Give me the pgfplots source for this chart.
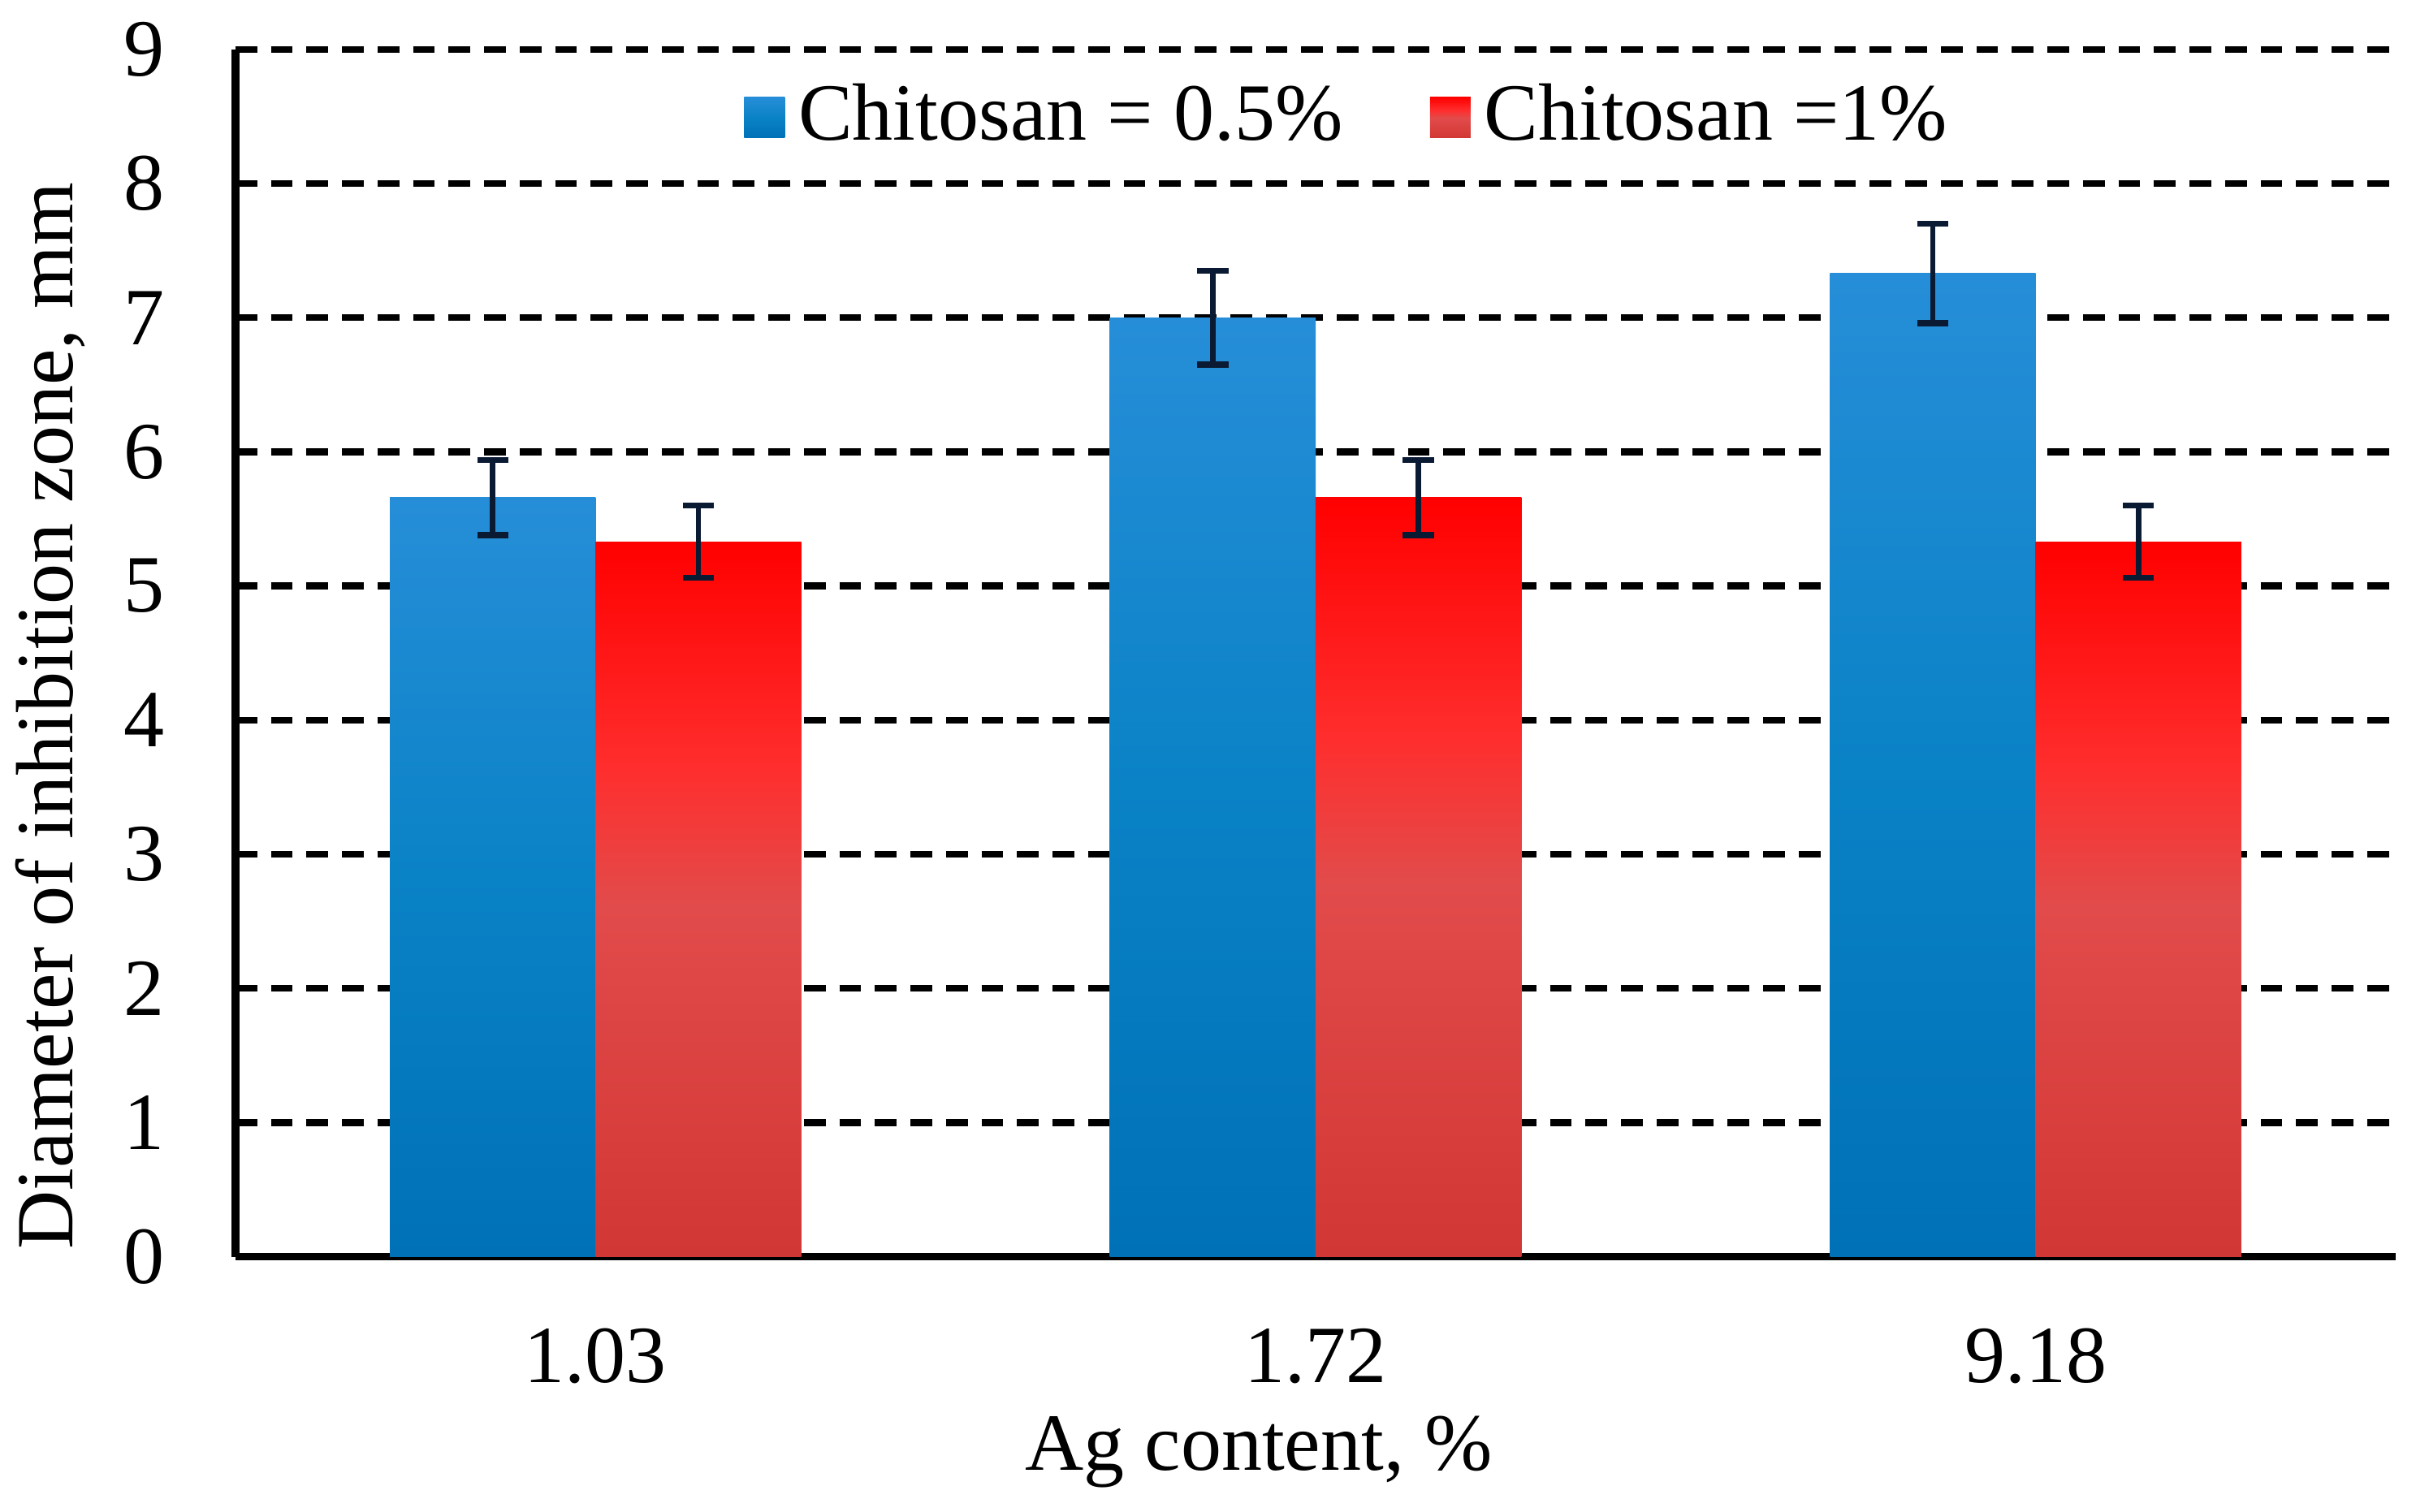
\documentclass[12pt,border=0pt]{standalone}
\usepackage{fontspec}
\setmainfont{Liberation Serif}
\usepackage{pgfplots}
\usepackage{pgfplotstable}
\pgfplotsset{compat=1.18}

\definecolor{errc}{HTML}{0B1A33}
\definecolor{bb0}{HTML}{0071B7}
\definecolor{bb5}{HTML}{0A82C6}
\definecolor{bb10}{HTML}{268ED8}
\definecolor{rb0}{HTML}{D13734}
\definecolor{rb49}{HTML}{E24B4B}
\definecolor{rb68}{HTML}{FF2E2E}
\definecolor{rb10}{HTML}{FF0000}

\pgfdeclareverticalshading{bluebar}{100bp}{color(0bp)=(bb0); color(25bp)=(bb0); color(50bp)=(bb5); color(75bp)=(bb10); color(100bp)=(bb10)}
\pgfdeclareverticalshading{redbar}{100bp}{color(0bp)=(rb0); color(25bp)=(rb0); color(49.5bp)=(rb49); color(59bp)=(rb68); color(75bp)=(rb10); color(100bp)=(rb10)}

\pgfplotstableread{
x y err
0 5.66 0.28
1 7.00 0.35
2 7.33 0.37
}\blueTable
\pgfplotstableread{
x y err
0 5.33 0.27
1 5.66 0.28
2 5.33 0.27
}\redTable

\pgfplotsset{
  bbar/.style={ybar, bar width=0.2857, bar shift=0, draw=none, shading=bluebar,
    legend image code/.code={\shade[shading=bluebar] (0pt,-3pt) rectangle (6pt,3pt);}},
  rbar/.style={ybar, bar width=0.2857, bar shift=0, draw=none, shading=redbar,
    legend image code/.code={\shade[shading=redbar] (0pt,-3pt) rectangle (6pt,3pt);}},
}

\begin{document}
\begin{tikzpicture}
\useasboundingbox (-34.8pt,-37.7pt) rectangle (322.2pt,185.7pt);
\begin{axis}[
  scale only axis, width=319.2pt, height=178.4pt,
  xmin=-0.5, xmax=2.5, ymin=0, ymax=9,
  axis lines*=left,
  axis line style={-, line width=1.1pt, black},
  xtick={0,1,2}, xticklabels={1.03,1.72,9.18},
  ytick={0,1,...,9},
  major tick length=0pt,
  ymajorgrids,
  major grid style={black, line width=1pt, dash pattern=on 3.2pt off 2.05pt},
  /pgf/number format/assume math mode=true,
  tick label style={font=\fontsize{12}{14}\selectfont},
  yticklabel style={xshift=-6.3pt},
  xticklabel style={yshift=-6.4pt},
  xlabel={Ag content, \%},
  ylabel={Diameter of inhibition zone, mm},
  label style={font=\fontsize{12}{14}\selectfont},
  every axis x label/.style={at={(axis description cs:0.4737,-0.162)}, anchor=center},
  every axis y label/.style={at={(axis description cs:-0.0857,0.448)}, rotate=90, anchor=center},
  legend columns=2,
  legend style={at={(axis description cs:0.5171,0.9435)}, anchor=center, draw=none, fill=none,
    font=\fontsize{12}{14}\selectfont,
    /tikz/every even column/.append style={column sep=10.9pt}},
  error bars/error bar style={errc, line width=0.8pt},
  error bars/error mark options={errc, rotate=90, mark size=2.3pt, line width=0.9pt},
]
\addplot[bbar, restrict x to domain=-0.4:0.1, error bars/.cd, y dir=both, y explicit]
  table[x expr=\thisrow{x}-0.1428, y=y, y error=err] {\blueTable};
\addlegendentry{Chitosan = 0.5\%}
\addplot[rbar, restrict x to domain=-0.1:0.4, error bars/.cd, y dir=both, y explicit]
  table[x expr=\thisrow{x}+0.1428, y=y, y error=err] {\redTable};
\addlegendentry{Chitosan =1\%}
\addplot[bbar, forget plot, restrict x to domain=0.6:1.1, error bars/.cd, y dir=both, y explicit]
  table[x expr=\thisrow{x}-0.1428, y=y, y error=err] {\blueTable};
\addplot[rbar, forget plot, restrict x to domain=0.9:1.4, error bars/.cd, y dir=both, y explicit]
  table[x expr=\thisrow{x}+0.1428, y=y, y error=err] {\redTable};
\addplot[bbar, forget plot, restrict x to domain=1.6:2.1, error bars/.cd, y dir=both, y explicit]
  table[x expr=\thisrow{x}-0.1428, y=y, y error=err] {\blueTable};
\addplot[rbar, forget plot, restrict x to domain=1.9:2.4, error bars/.cd, y dir=both, y explicit]
  table[x expr=\thisrow{x}+0.1428, y=y, y error=err] {\redTable};
\end{axis}
\end{tikzpicture}
\end{document}
